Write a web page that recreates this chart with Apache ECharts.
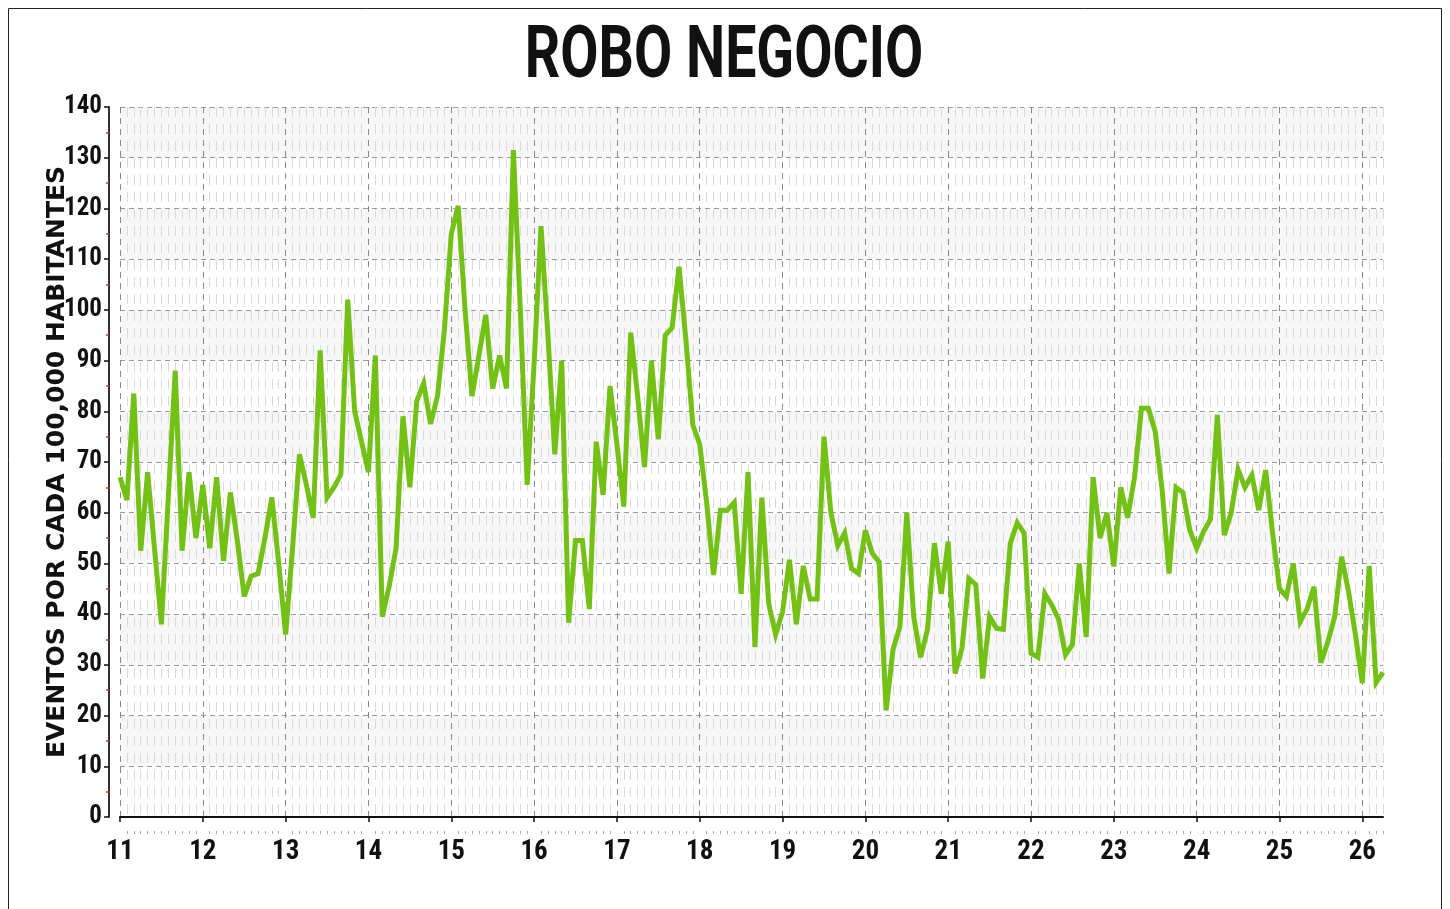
<!DOCTYPE html>
<html>
<head>
<meta charset="utf-8">
<script src="https://cdn.jsdelivr.net/npm/echarts@6/dist/echarts.min.js"></script>
<style>
	html, body { margin: 0; padding: 0; background: #fff; }
	#chart { width: 1450px; height: 909px; }
</style>
</head>
<body>
<div id="chart"></div>
<script>
	// year tick labels (one per January)
	var yearLabels = ['11', '12', '13', '14', '15', '16', '17', '18', '19', '20', '21', '22', '23', '24', '25', '26'];
	// monthly values, Jan 2011 .. Apr 2026
	var values = [
		67, 62.5, 83.5, 52.5, 68, 53, 38, 63, 88, 52.5, 68, 55,
		65.5, 53, 67, 50.5, 64, 54.5, 43.5, 47.5, 48, 55, 63, 50,
		36, 53, 71.5, 65.5, 59, 92, 63, 65, 67.5, 102, 80, 74,
		68, 91, 39.5, 45.5, 53, 79, 65, 82, 85.5, 77.5, 83, 96,
		115, 120.5, 100, 83, 91, 99, 84.5, 91, 84.5, 131.5, 100, 65.5,
		89.5, 116.5, 95, 71.5, 90, 38.3, 54.5, 54.5, 41, 74, 63.5, 85,
		73.5, 61.2, 95.5, 83, 69, 90, 74.5, 95, 96.5, 108.5, 94, 77.3,
		73.5, 62, 47.7, 60.5, 60.5, 62, 44, 68, 33.5, 63, 42, 36,
		40.5, 50.7, 38, 49.5, 43, 43, 75, 60, 53.5, 56, 49, 48,
		56.5, 52, 50.3, 21, 33, 37.5, 60, 39.5, 31.5, 37, 54, 44,
		54.3, 28.3, 33.3, 47, 45.8, 27.3, 39.5, 37.2, 37, 54, 58, 56,
		32.3, 31.5, 44, 41.8, 39, 32, 34, 50, 35.5, 67, 55, 60,
		49.4, 65, 59, 67, 80.6, 80.6, 76, 64.5, 48, 65, 64, 56.6,
		53, 56.3, 58.7, 79.3, 55.6, 60, 68.5, 65, 67.4, 60.5, 68.4, 56,
		45, 43.5, 50, 38.5, 41, 45.4, 30.4, 34.5, 39.5, 51.3, 44.5, 36,
		26.4, 49.5, 26.5, 28.5
	];

	var months = [];
	for (var i = 0; i < values.length; i++) {
		months.push(yearLabels[Math.floor(i / 12)] + '-' + (i % 12 + 1));
	}

	var numFont = "'Roboto Condensed', 'Liberation Sans Narrow', 'DejaVu Sans Condensed', Roboto, sans-serif";

	var chart = echarts.init(document.getElementById('chart'));
	var option = {
		animation: false,
		backgroundColor: '#ffffff',
		graphic: [
			{
				type: 'rect',
				shape: { x: 8.5, y: 8.5, width: 1433, height: 960 },
				style: { fill: 'none', stroke: '#222', lineWidth: 1 },
				silent: true
			},
			{
				type: 'text',
				x: 724,
				y: 59,
				scaleX: 0.76,
				style: {
					text: 'ROBO NEGOCIO',
					font: 'bold 73px Roboto',
					fill: '#111',
					textAlign: 'center',
					textVerticalAlign: 'middle'
				}
			},
			{
				type: 'text',
				x: 57,
				y: 462,
				rotation: Math.PI / 2,
				style: {
					text: 'EVENTOS POR CADA 100,000 HABITANTES',
					font: 'bold 25px "DejaVu Sans"',
					fill: '#111',
					textAlign: 'center',
					textVerticalAlign: 'middle'
				}
			}
		],
		grid: {
			left: 120,
			right: 67,
			top: 107,
			bottom: 92
		},
		xAxis: [
			{
				type: 'category',
				position: 'bottom',
				data: months,
				boundaryGap: false,
				offset: 14,
				axisLine: { lineStyle: { color: '#111', width: 2 } },
				axisTick: {
					interval: function (idx) { return idx % 12 === 0; },
					length: 5,
					lineStyle: { color: '#111', width: 1.5 }
				},
				axisLabel: {
					interval: function (idx) { return idx % 12 === 0; },
					formatter: function (v, idx) { return yearLabels[Math.floor(idx / 12)]; },
					margin: 8,
					color: '#111',
					fontSize: 27,
					fontWeight: 'bold',
					fontFamily: numFont
				},
				splitLine: {
					show: true,
					interval: function (idx) { return idx % 12 === 0; },
					lineStyle: { color: '#8a8a8a', type: [6, 5], width: 1 }
				}
			},
			{
				type: 'category',
				position: 'bottom',
				data: months,
				boundaryGap: false,
				offset: 14,
				axisLine: { show: false },
				axisTick: {
					interval: function (idx) { return idx % 12 !== 0; },
					length: 3,
					lineStyle: { color: '#aaa', width: 1 }
				},
				axisLabel: { show: false },
				splitLine: {
					show: true,
					interval: function (idx) { return idx % 12 !== 0; },
					lineStyle: { color: '#dadada', type: [10, 7], width: 1 }
				}
			}
		],
		yAxis: {
			type: 'value',
			min: 0,
			max: 140,
			interval: 10,
			offset: 11,
			axisLine: { show: true, lineStyle: { color: '#333', width: 2 } },
			axisTick: { show: true, length: 5, lineStyle: { color: '#111', width: 1.5 } },
			minorTick: { show: true, splitNumber: 2, length: 3, lineStyle: { color: '#e03030', width: 1.5 } },
			axisLabel: {
				margin: 7,
				color: '#111',
				fontSize: 25,
				fontWeight: 'bold',
				fontFamily: numFont
			},
			splitLine: { lineStyle: { color: '#9a9a9a', type: [5, 4], width: 1 } },
			splitArea: { show: true, areaStyle: { color: ['rgba(255,255,255,0)', '#f7f7f7'] } }
		},
		series: [
			{
				type: 'line',
				xAxisIndex: 0,
				data: values,
				symbol: 'none',
				lineStyle: { color: '#74c116', width: 5, join: 'miter', miterLimit: 4 },
				itemStyle: { color: '#74c116' },
				z: 5
			}
		]
	};
	chart.setOption(option);
</script>
</body>
</html>
